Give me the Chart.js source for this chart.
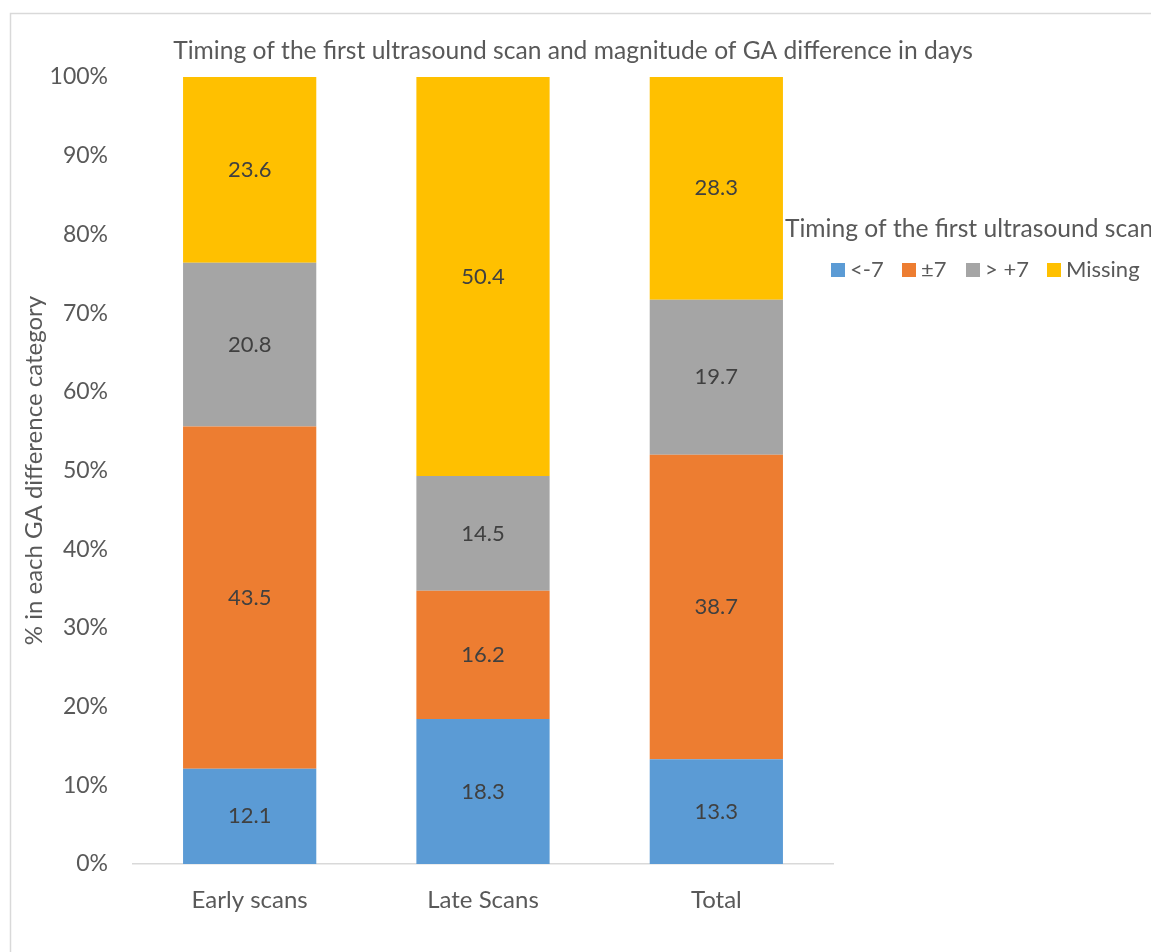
<!DOCTYPE html>
<html>
<head>
<meta charset="utf-8">
<script src="https://cdn.jsdelivr.net/npm/chart.js@4.4.1/dist/chart.umd.min.js"></script>
<style>
  html, body { margin: 0; padding: 0; background: #fff; }
  #wrap { width: 1151px; height: 952px; position: relative; }
</style>
</head>
<body>
<div id="wrap"><canvas id="gaChart" width="1151" height="952"></canvas></div>
<script>
// Timing of first ultrasound scan vs GA difference (100% stacked)

// Chart data
const categories = ['Early scans', 'Late Scans', 'Total'];
const seriesNames = ['<-7', '±7', '> +7', 'Missing'];
const lessThanMinus7 = [12.1, 18.3, 13.3];
const withinPlusMinus7 = [43.5, 16.2, 38.7];
const moreThanPlus7 = [20.8, 14.5, 19.7];
const missing = [23.6, 50.4, 28.3];
const yTicks = [0, 10, 20, 30, 40, 50, 60, 70, 80, 90, 100];

const colors = ['#5B9BD5', '#ED7D31', '#A5A5A5', '#FFC000'];
const FONT = 'Lato, "Liberation Sans", sans-serif';
const TEXT = '#595959';

// legend box x-positions (layout only)
const legendBoxX = [831, 902, 966, 1047];

// 100% stacked: scale each column by its total (labels keep raw values)
const rawSeries = [lessThanMinus7, withinPlusMinus7, moreThanPlus7, missing];
const totals = categories.map((c, i) => rawSeries.reduce((s, arr) => s + arr[i], 0));

const datasets = rawSeries.map((arr, k) => ({
    label: seriesNames[k],
    data: arr.map((v, i) => v / totals[i] * 100),
    raw: arr,
    backgroundColor: colors[k],
    borderWidth: 0,
    barPercentage: 0.571,
    categoryPercentage: 1.0
}));

// Frame, title, value labels and legend
const decorPlugin = {
    id: 'decor',
    beforeDraw(chart) {
        const ctx = chart.ctx;
        ctx.save();
        ctx.strokeStyle = '#D9D9D9';
        ctx.lineWidth = 1.5;
        ctx.strokeRect(10.5, 13.5, 1200, 1000);
        ctx.restore();
    },
    afterDatasetsDraw(chart) {
        const ctx = chart.ctx;
        ctx.save();
        ctx.font = '22px ' + FONT;
        ctx.textAlign = 'center';
        ctx.textBaseline = 'middle';
        ctx.fillStyle = '#404040';
        chart.data.datasets.forEach((ds, di) => {
            chart.getDatasetMeta(di).data.forEach((bar, i) => {
                const mid = (bar.y + bar.base) / 2;
                ctx.fillText(ds.raw[i].toFixed(1), bar.x, mid);
            });
        });

        // chart title
        ctx.font = '24.6px ' + FONT;
        ctx.fillStyle = TEXT;
        ctx.fillText('Timing of the first ultrasound scan and magnitude of GA difference in days', 573, 51);

        // legend
        ctx.textAlign = 'left';
        ctx.fillText('Timing of the first ultrasound scan', 785, 229);
        ctx.font = '22px ' + FONT;
        const y = 270;
        chart.data.datasets.forEach((ds, k) => {
            const x = legendBoxX[k];
            ctx.fillStyle = ds.backgroundColor;
            ctx.fillRect(x, y - 7, 14, 14);
            ctx.fillStyle = TEXT;
            ctx.fillText(ds.label, x + 19, y);
        });
        ctx.restore();
    }
};

const ctx = document.getElementById('gaChart').getContext('2d');
new Chart(ctx, {
    type: 'bar',
    data: { labels: categories, datasets: datasets },
    options: {
        responsive: false,
        animation: false,
        layout: { padding: { left: 10, right: 318, top: 77, bottom: 0 } },
        plugins: {
            legend: { display: false },
            title: { display: false },
            tooltip: { enabled: false }
        },
        scales: {
            x: {
                stacked: true,
                offset: true,
                grid: { display: false, drawTicks: false },
                border: { display: true, color: '#D9D9D9', width: 1.5 },
                ticks: { color: TEXT, font: { family: FONT, size: 24 }, padding: 22 },
                afterFit(scale) { scale.height = 88; }
            },
            y: {
                stacked: true,
                min: 0,
                max: 100,
                afterBuildTicks(scale) { scale.ticks = yTicks.map(v => ({ value: v })); },
                grid: { display: false, drawTicks: false },
                border: { display: false },
                ticks: {
                    color: TEXT,
                    font: { family: FONT, size: 23 },
                    padding: 25,
                    callback: v => v + '%'
                },
                title: {
                    display: true,
                    text: '% in each GA difference category',
                    color: TEXT,
                    font: { family: FONT, size: 24 },
                    padding: { top: 10, bottom: 0 }
                },
                afterFit(scale) { scale.width = 123; }
            }
        }
    },
    plugins: [decorPlugin]
});
</script>
</body>
</html>
